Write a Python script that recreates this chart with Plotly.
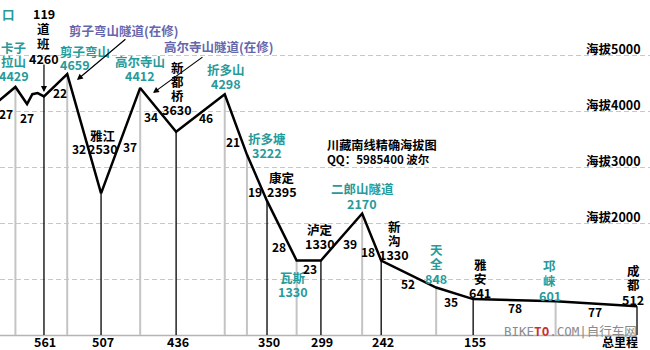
import numpy as np
import plotly.graph_objects as go

# ---------------- data ----------------
# elevation profile (km remaining to Chengdu, metres)
profile_km = [615, 588, 577, 572, 567, 561, 539, 507, 470, 436, 390, 369, 350, 322, 299, 260, 242, 190, 155, 77, 0]
profile_elev = [4000, 4429, 4125, 4300, 4320, 4260, 4659, 2530, 4412, 3630, 4298, 3222, 2395, 1330, 1330, 2170, 1330, 848, 641, 601, 512]

station_names = ["卡子拉山", "119道班", "剪子弯山", "雅江", "高尔寺山", "新都桥", "折多山", "折多塘", "康定",
                 "瓦斯", "泸定", "二郎山隧道", "新沟", "天全", "雅安", "邛崃", "成都"]
station_label_lines = [["卡子", "拉山"], ["119", "道", "班"], ["剪子弯山"], ["雅江"], ["高尔寺山"], ["新", "都", "桥"],
                       ["折多山"], ["折多塘"], ["康定"], ["瓦斯"], ["泸定"], ["二郎山隧道"], ["新", "沟"], ["天", "全"],
                       ["雅", "安"], ["邛", "崃"], ["成", "都"]]
station_km = [588, 561, 539, 507, 470, 436, 390, 369, 350, 322, 299, 260, 242, 190, 155, 77, 0]
station_elev = [4429, 4260, 4659, 2530, 4412, 3630, 4298, 3222, 2395, 1330, 1330, 2170, 1330, 848, 641, 601, 512]
station_is_town = [False, True, False, True, False, True, False, False, True, False, True, False, True, False, True,
                   False, True]

segment_start_km = 615  # first node, off the left edge

tunnel_names = ["剪子弯山隧道(在修)", "高尔寺山隧道(在修)"]
tunnel_near = ["剪子弯山", "高尔寺山"]

grid_elev = [1000, 2000, 3000, 4000, 5000]
grid_labelled = [2000, 3000, 4000, 5000]
grid_prefix = "海拔"
title_lines = ["川藏南线精确海拔图", "QQ：5985400 波尔"]
total_label = "总里程"
cut_label = "口"

# ---------------- style ----------------
CJK = "Noto Sans CJK SC"
TEAL = "#279a9a"
PURPLE = "#6666ad"
GRAY_V = "#c4c4c4"
GRID = "#c8c8c8"

# station label: (dx, dy of first line, line spacing, xanchor)
label_style = {
    "卡子拉山": (-1.5, -39, 14, "center"),
    "119道班": (0, -83.4, 15, "center"),
    "剪子弯山": (-9.3, -23, 13, "left"),
    "雅江": (1.5, -58, 13, "center"),
    "高尔寺山": (0, -26, 14, "center"),
    "新都桥": (1, -64.7, 14, "center"),
    "折多山": (1, -25.3, 14, "center"),
    "折多塘": (20, -15.6, 14, "center"),
    "康定": (14.5, -22.9, 14, "center"),
    "瓦斯": (-4, 16.5, 14, "center"),
    "泸定": (-1, -31.5, 14, "center"),
    "二郎山隧道": (0, -24.5, 15, "center"),
    "新沟": (13, -34.5, 14.3, "center"),
    "天全": (0, -38.5, 14.5, "center"),
    "雅安": (7, -35.1, 14, "center"),
    "邛崃": (-6, -35.8, 15, "center"),
    "成都": (-4, -36.3, 14.5, "center"),
}
seg_offsets = [(4.8, 15), (-2.7, 17.9), (4.4, 7.2), (-5.2, 14.3), (8.9, 5.9), (-6.7, 6.2), (6, 4.5), (-2.4, 17.1),
               (-2, 13.8), (-3.3, 15.3), (1.2, 7.5), (8.4, 6), (-3.2, 14), (-0.2, 9), (-3.2, 7.7), (0.6, 7.3),
               (-1.3, 7.2)]
# tunnel: (text dx, text dy, arrow head dx, head dy, ax, ay)
tunnel_style = [(-0.3, -43.1, 9.7, 5.9, 50, -42), (21.8, -41.9, 12.8, 5.1, 51, -37)]

fig = go.Figure()

# vertical station lines
gx, gy, bx, by = [], [], [], []
for km, el, town in zip(station_km, station_elev, station_is_town):
    if town:
        bx += [km, km, None]; by += [el, 0, None]
    else:
        gx += [km, km, None]; gy += [el, 0, None]
fig.add_trace(go.Scatter(x=gx, y=gy, mode="lines", line=dict(color=GRAY_V, width=2), hoverinfo="skip"))
fig.add_trace(go.Scatter(x=bx, y=by, mode="lines", line=dict(color="black", width=1.3), hoverinfo="skip"))
# profile
fig.add_trace(go.Scatter(x=profile_km, y=profile_elev, mode="lines", line=dict(color="black", width=2.5),
                         hoverinfo="skip"))

ann = []


def txt(x, y, text, dx, dy, color="black", size=12.5, xanchor="center", family=CJK, xref="x", yref="y",
        weight="bold"):
    ann.append(dict(x=x, y=y, xref=xref, yref=yref, text=text, showarrow=False, xshift=dx, yshift=-dy,
                    xanchor=xanchor, yanchor="middle",
                    font=dict(family=family, size=size, color=color, weight=weight)))


# station labels
for name, lines, km, el, town in zip(station_names, station_label_lines, station_km, station_elev, station_is_town):
    dx, dy0, sp, xa = label_style[name]
    col = "black" if town else TEAL
    allines = lines + [str(el)]
    for i, ln in enumerate(allines):
        txt(km, el, ln, dx, dy0 + i * sp, col, xanchor=xa)

# segment distance labels
nodes = [segment_start_km] + station_km
rev_km = profile_km[::-1]
rev_el = profile_elev[::-1]
for i in range(len(nodes) - 1):
    a, b = nodes[i], nodes[i + 1]
    mid = (a + b) / 2
    ea = np.interp(a, rev_km, rev_el)
    eb = np.interp(b, rev_km, rev_el)
    em = (ea + eb) / 2 if i != 1 else np.interp(mid, rev_km, rev_el)
    dx, dy = seg_offsets[i]
    txt(mid, em, str(a - b), dx, dy, "black", size=12)

# 119道班 arrow
i_db = station_names.index("119道班")
ann.append(dict(x=station_km[i_db], y=station_elev[i_db], xref="x", yref="y", text="", showarrow=True,
                yshift=4.4, ax=0, ay=-29, arrowhead=2, arrowsize=1, arrowwidth=1.2, arrowcolor="black"))

# tunnels
for tname, near, st in zip(tunnel_names, tunnel_near, tunnel_style):
    k = station_names.index(near)
    tdx, tdy, hdx, hdy, axp, ayp = st
    txt(station_km[k], station_elev[k], tname, tdx, tdy, PURPLE, size=12.5, xanchor="left")
    ann.append(dict(x=station_km[k], y=station_elev[k], xref="x", yref="y", text="", showarrow=True,
                    xshift=hdx, yshift=-hdy, ax=axp, ay=ayp, arrowhead=2, arrowsize=1, arrowwidth=1.2,
                    arrowcolor="black"))

# grid labels on the right
for g in grid_labelled:
    ann.append(dict(x=643 / 650, y=g, xref="paper", yref="y", text=f"{grid_prefix}{g}", showarrow=False,
                    xanchor="right", yanchor="middle", yshift=6.5,
                    font=dict(family=CJK, size=12.5, color="black", weight="bold")))

# bottom km labels (towns except the end)
for km, town in zip(station_km, station_is_town):
    if town and km > 0:
        txt(km, 0, str(km), 1.5, 6, "black", size=12.5)
txt(0, 0, total_label, -17, 6, "black", size=12)

# title block
txt(325 / 650, 1 - 145 / 350, title_lines[0], 0, 0, "black", size=12.2, xanchor="left", xref="paper", yref="paper")
txt(325 / 650, 1 - 158.5 / 350, title_lines[1], 0, 0, "black", size=11.5, xanchor="left", xref="paper",
    yref="paper")
# clipped label at top-left
txt(0, 1 - 14 / 350, cut_label, 0, 0, TEAL, size=12.5, xanchor="left", xref="paper", yref="paper")

# watermark
ann.append(dict(x=502 / 650, y=1 - 330 / 350, xref="paper", yref="paper", showarrow=False, xanchor="left",
                yanchor="middle",
                text="BIKE<span style='color:#c83232'><b>TO</b></span>.COM|<span style='font-family:Noto Sans CJK SC'>自行车网</span>",
                font=dict(family="DejaVu Sans Mono", size=12.5, color="#8a8a8a")))

fig.update_layout(
    width=650, height=350, autosize=False,
    margin=dict(l=0, r=0, t=0, b=0, pad=0),
    paper_bgcolor="white", plot_bgcolor="white",
    showlegend=False,
    annotations=ann,
    shapes=[dict(type="line", xref="x", yref="y", x0=602.6, x1=0, y0=-10, y1=-10,
                 line=dict(color="#b4b4b4", width=1.5), layer="below")],
    xaxis=dict(range=[602.6, -12.3], showgrid=False, zeroline=False, showticklabels=False, showline=False,
               ticks=""),
    yaxis=dict(range=[-267.9, 5982.1], tickvals=grid_elev, showgrid=True, gridcolor=GRID, gridwidth=1,
               griddash="5px,3px", zeroline=False, showticklabels=False, showline=False, ticks=""),
)

fig.write_html("out.html")
